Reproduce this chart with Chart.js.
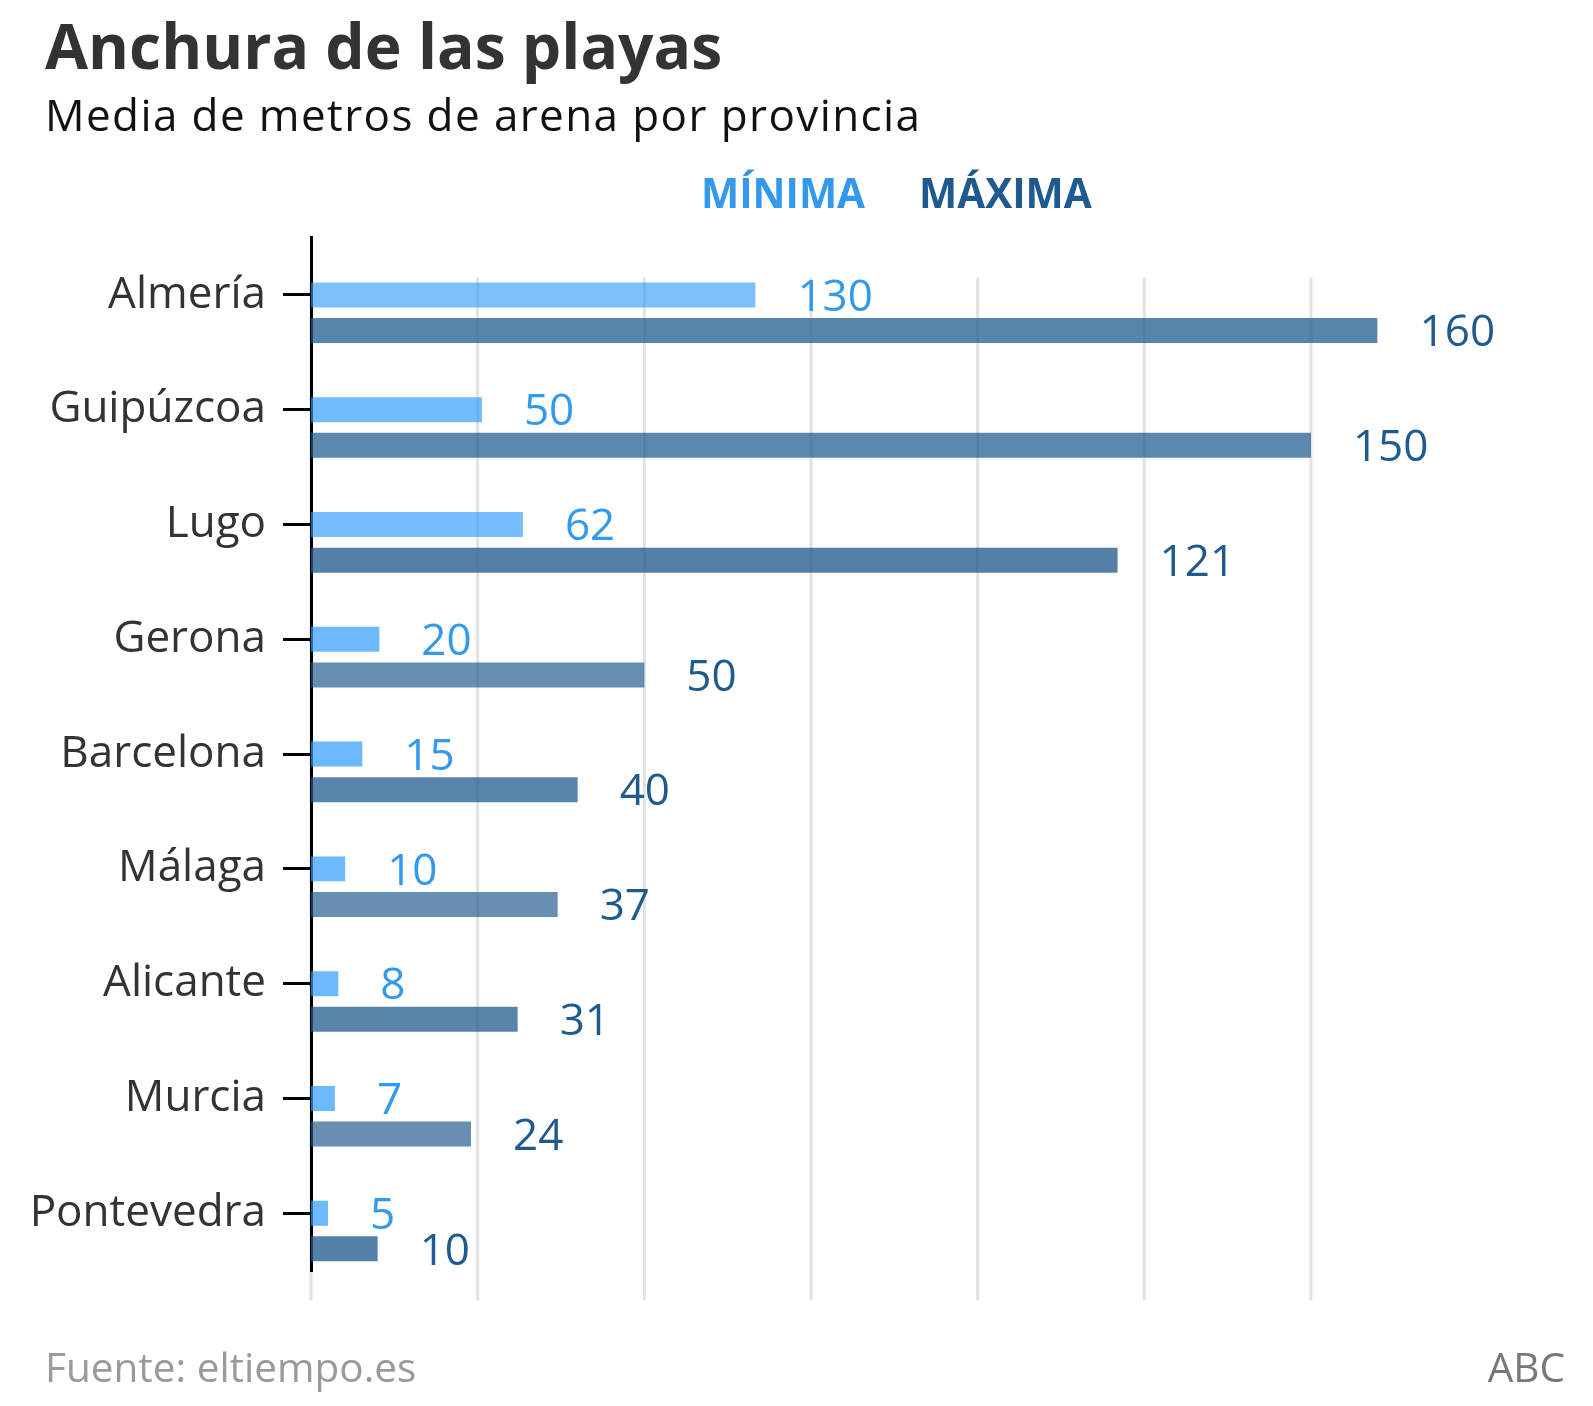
<!DOCTYPE html>
<html>
<head>
<meta charset="utf-8">
<script src="https://cdn.jsdelivr.net/npm/chart.js@4.4.0/dist/chart.umd.min.js"></script>
<style>
  html, body { margin: 0; padding: 0; background: #fff; }
  body { width: 1593px; height: 1406px; position: relative; overflow: hidden; font-family: 'Open Sans', sans-serif; }
  #wrap { position: absolute; left: 0; top: 0; width: 1593px; height: 1406px; }
  .t { position: absolute; white-space: nowrap; line-height: 1; }
  #title { left: 45px; top: 14px; font-size: 62.4px; font-weight: 700; color: #333; }
  #subtitle { left: 45px; top: 92px; font-size: 44px; letter-spacing: 1.4px; color: #111; }
  #legMin { left: 701px; top: 173px; font-size: 40.5px; font-weight: 700; color: #3399ee; }
  #legMax { left: 919px; top: 173px; font-size: 40.5px; font-weight: 700; color: #1f5a8e; }
  #source { left: 45px; top: 1347px; font-size: 40.5px; color: #9a9a9a; }
  #brand { right: 28px; top: 1347px; font-size: 40.5px; color: #777; }
</style>
</head>
<body>
<div id="wrap"><canvas id="c" width="1593" height="1406"></canvas></div>
<div class="t" id="title">Anchura de las playas</div>
<div class="t" id="subtitle">Media de metros de arena por provincia</div>
<div class="t" id="legMin">MÍNIMA</div>
<div class="t" id="legMax">MÁXIMA</div>
<div class="t" id="source">Fuente: eltiempo.es</div>
<div class="t" id="brand">ABC</div>
<script>
const categories = ['Almería', 'Guipúzcoa', 'Lugo', 'Gerona', 'Barcelona', 'Málaga', 'Alicante', 'Murcia', 'Pontevedra'];
const minima = [130, 50, 62, 20, 15, 10, 8, 7, 5];
const maxima = [160, 150, 121, 50, 40, 37, 31, 24, 10];
const gridValues = [0, 25, 50, 75, 100, 125, 150];

const minAlpha = [0.62, 0.67, 0.65, 0.70, 0.70, 0.70, 0.70, 0.70, 0.70];
const maxAlpha = [0.74, 0.72, 0.76, 0.68, 0.74, 0.68, 0.74, 0.68, 0.76];
const minColors = minAlpha.map(a => `rgba(45,155,250,${a})`);
const maxColors = maxAlpha.map(a => `rgba(31,90,142,${a})`);

Chart.defaults.font.family = "'Open Sans', sans-serif";

const gridPlugin = {
  id: 'customGrid',
  beforeDraw(chart) {
    const ctx = chart.ctx, xs = chart.scales.x, area = chart.chartArea;
    ctx.save();
    ctx.strokeStyle = '#e2e2e2';
    ctx.lineWidth = 3;
    gridValues.forEach(v => {
      const px = xs.getPixelForValue(v);
      ctx.beginPath();
      ctx.moveTo(px, area.top + 40);
      ctx.lineTo(px, area.bottom + 30);
      ctx.stroke();
    });
    ctx.restore();
  }
};

const labelPlugin = {
  id: 'valueLabels',
  afterDatasetsDraw(chart) {
    const ctx = chart.ctx;
    const fs = 44;
    ctx.save();
    ctx.font = fs + "px 'Open Sans'";
    ctx.textAlign = 'left';
    ctx.textBaseline = 'alphabetic';
    [[1, '#3399ee'], [2, '#1f5a8e']].forEach(([di, color]) => {
      const meta = chart.getDatasetMeta(di);
      const ds = chart.data.datasets[di];
      ctx.fillStyle = color;
      meta.data.forEach((el, i) => {
        ctx.fillText(String(ds.data[i]), el.x + 42, el.y + 0.357 * fs);
      });
    });
    ctx.restore();
  }
};

new Chart(document.getElementById('c'), {
  type: 'bar',
  data: {
    labels: categories,
    datasets: [
      { label: '', data: categories.map(() => null), xAxisID: 'x' },
      { label: 'MÍNIMA', data: minima, xAxisID: 'x2', backgroundColor: minColors },
      { label: 'MÁXIMA', data: maxima, xAxisID: 'x', backgroundColor: maxColors }
    ]
  },
  options: {
    indexAxis: 'y',
    responsive: false,
    animation: false,
    devicePixelRatio: 1,
    categoryPercentage: 0.9305,
    barPercentage: 0.702,
    layout: { padding: { top: 237.6, bottom: 135.4, left: 0, right: 215.4 } },
    scales: {
      y: {
        type: 'category',
        offset: true,
        grid: { offset: false, drawOnChartArea: false, drawTicks: true, tickLength: 28, color: '#000', lineWidth: 3 },
        border: { display: true, color: '#000', width: 3 },
        ticks: { padding: 17, color: '#333', font: { size: 44 }, autoSkip: false },
        afterFit(s) { s.width = 311; }
      },
      x: { type: 'linear', display: false, min: 0, max: 160 },
      x2: { type: 'linear', display: false, min: 0, max: 312 }
    },
    plugins: { legend: { display: false }, tooltip: { enabled: false }, title: { display: false } }
  },
  plugins: [gridPlugin, labelPlugin]
});
</script>
</body>
</html>
